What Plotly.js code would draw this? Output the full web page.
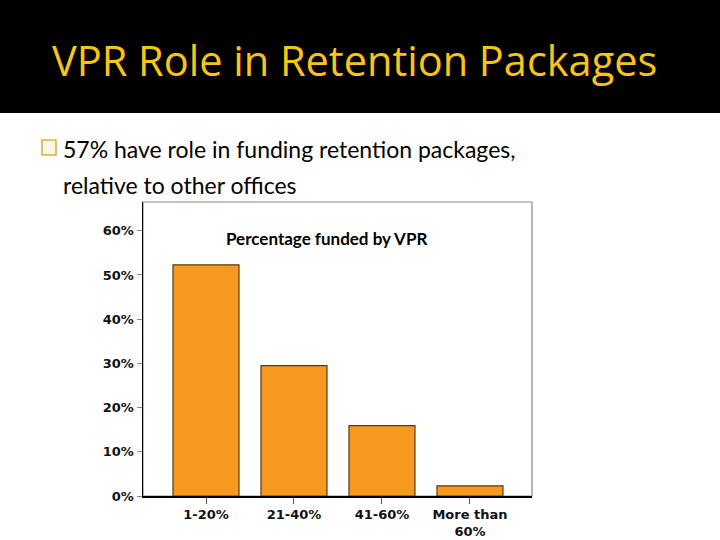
<!DOCTYPE html>
<html>
<head>
<meta charset="utf-8">
<script src="https://cdn.plot.ly/plotly-3.0.1.min.js"></script>
<style>
  html, body { margin: 0; padding: 0; background: #ffffff; }
  #chart { width: 720px; height: 540px; }
</style>
</head>
<body>
<div id="chart"></div>
<script>
const slideTitle = "VPR Role in Retention Packages";
const bulletLine1 = "57% have role in funding retention packages,";
const bulletLine2 = "relative to other offices";
const chartTitle = "Percentage funded by VPR";
const categories = ["1-20%", "21-40%", "41-60%", "More than<br>60%"];
const percentFunded = [52.3, 29.5, 15.9, 2.3];
const yTicks = [0, 10, 20, 30, 40, 50, 60];

const W = 720, H = 540;
const px = x => x / W;
const py = y => (H - y) / H;

const tickFont = { family: "DejaVu Sans, Verdana, sans-serif", size: 13, color: "#111111", weight: "bold" };

const trace = {
  type: "bar",
  x: categories,
  y: percentFunded,
  width: 0.75,
  marker: { color: "#F7991F", line: { color: "#5A3A12", width: 1.2 } },
  hoverinfo: "skip"
};

const layout = {
  width: W, height: H,
  margin: { l: 0, r: 0, t: 0, b: 0, pad: 0 },
  paper_bgcolor: "#ffffff",
  plot_bgcolor: "#ffffff",
  showlegend: false,
  xaxis: {
    domain: [px(143), px(532)],
    range: [-0.716, 3.705],
    type: "category",
    showgrid: false,
    zeroline: false,
    showline: true,
    linecolor: "#000000",
    linewidth: 1.5,
    ticks: "outside",
    ticklen: 6,
    tickcolor: "#555555",
    tickfont: tickFont,
    fixedrange: true
  },
  yaxis: {
    domain: [py(496), py(202)],
    range: [0, 66.5],
    tickvals: yTicks,
    ticktext: yTicks.map(v => v + "%"),
    showgrid: false,
    zeroline: false,
    showline: true,
    linecolor: "#000000",
    linewidth: 1.5,
    ticks: "outside",
    ticklen: 5,
    tickcolor: "#888888",
    tickfont: tickFont,
    fixedrange: true
  },
  shapes: [
    { type: "rect", xref: "paper", yref: "paper", x0: 0, x1: 1, y0: py(113), y1: 1,
      fillcolor: "#000000", line: { width: 0 }, layer: "below" },
    { type: "rect", xref: "paper", yref: "paper", x0: px(143), x1: px(532), y0: py(496), y1: py(202),
      fillcolor: "rgba(0,0,0,0)", line: { color: "#8a8a8a", width: 1.2 }, layer: "below" },
    { type: "rect", xref: "paper", yref: "paper", x0: px(42), x1: px(56), y0: py(155), y1: py(140),
      fillcolor: "#FBF6E4", line: { color: "#D8B23E", width: 1.6 }, layer: "above" }
  ],
  annotations: [
    { text: slideTitle, xref: "paper", yref: "paper", x: px(354), y: py(60),
      xanchor: "center", yanchor: "middle", showarrow: false,
      font: { family: "Open Sans, Lato, sans-serif", size: 41.5, color: "#F9C416" } },
    { text: bulletLine1, xref: "paper", yref: "paper", x: px(61), y: py(149),
      xanchor: "left", yanchor: "middle", showarrow: false,
      font: { family: "Lato, Open Sans, sans-serif", size: 23, color: "#000000" } },
    { text: bulletLine2, xref: "paper", yref: "paper", x: px(61), y: py(185),
      xanchor: "left", yanchor: "middle", showarrow: false,
      font: { family: "Lato, Open Sans, sans-serif", size: 23, color: "#000000" } },
    { text: chartTitle, xref: "paper", yref: "paper", x: px(326), y: py(239),
      xanchor: "center", yanchor: "middle", showarrow: false,
      font: { family: "Lato, Open Sans, sans-serif", size: 17, color: "#000000", weight: 700 } }
  ]
};

Plotly.newPlot("chart", [trace], layout, { staticPlot: true, displayModeBar: false });
</script>
</body>
</html>
